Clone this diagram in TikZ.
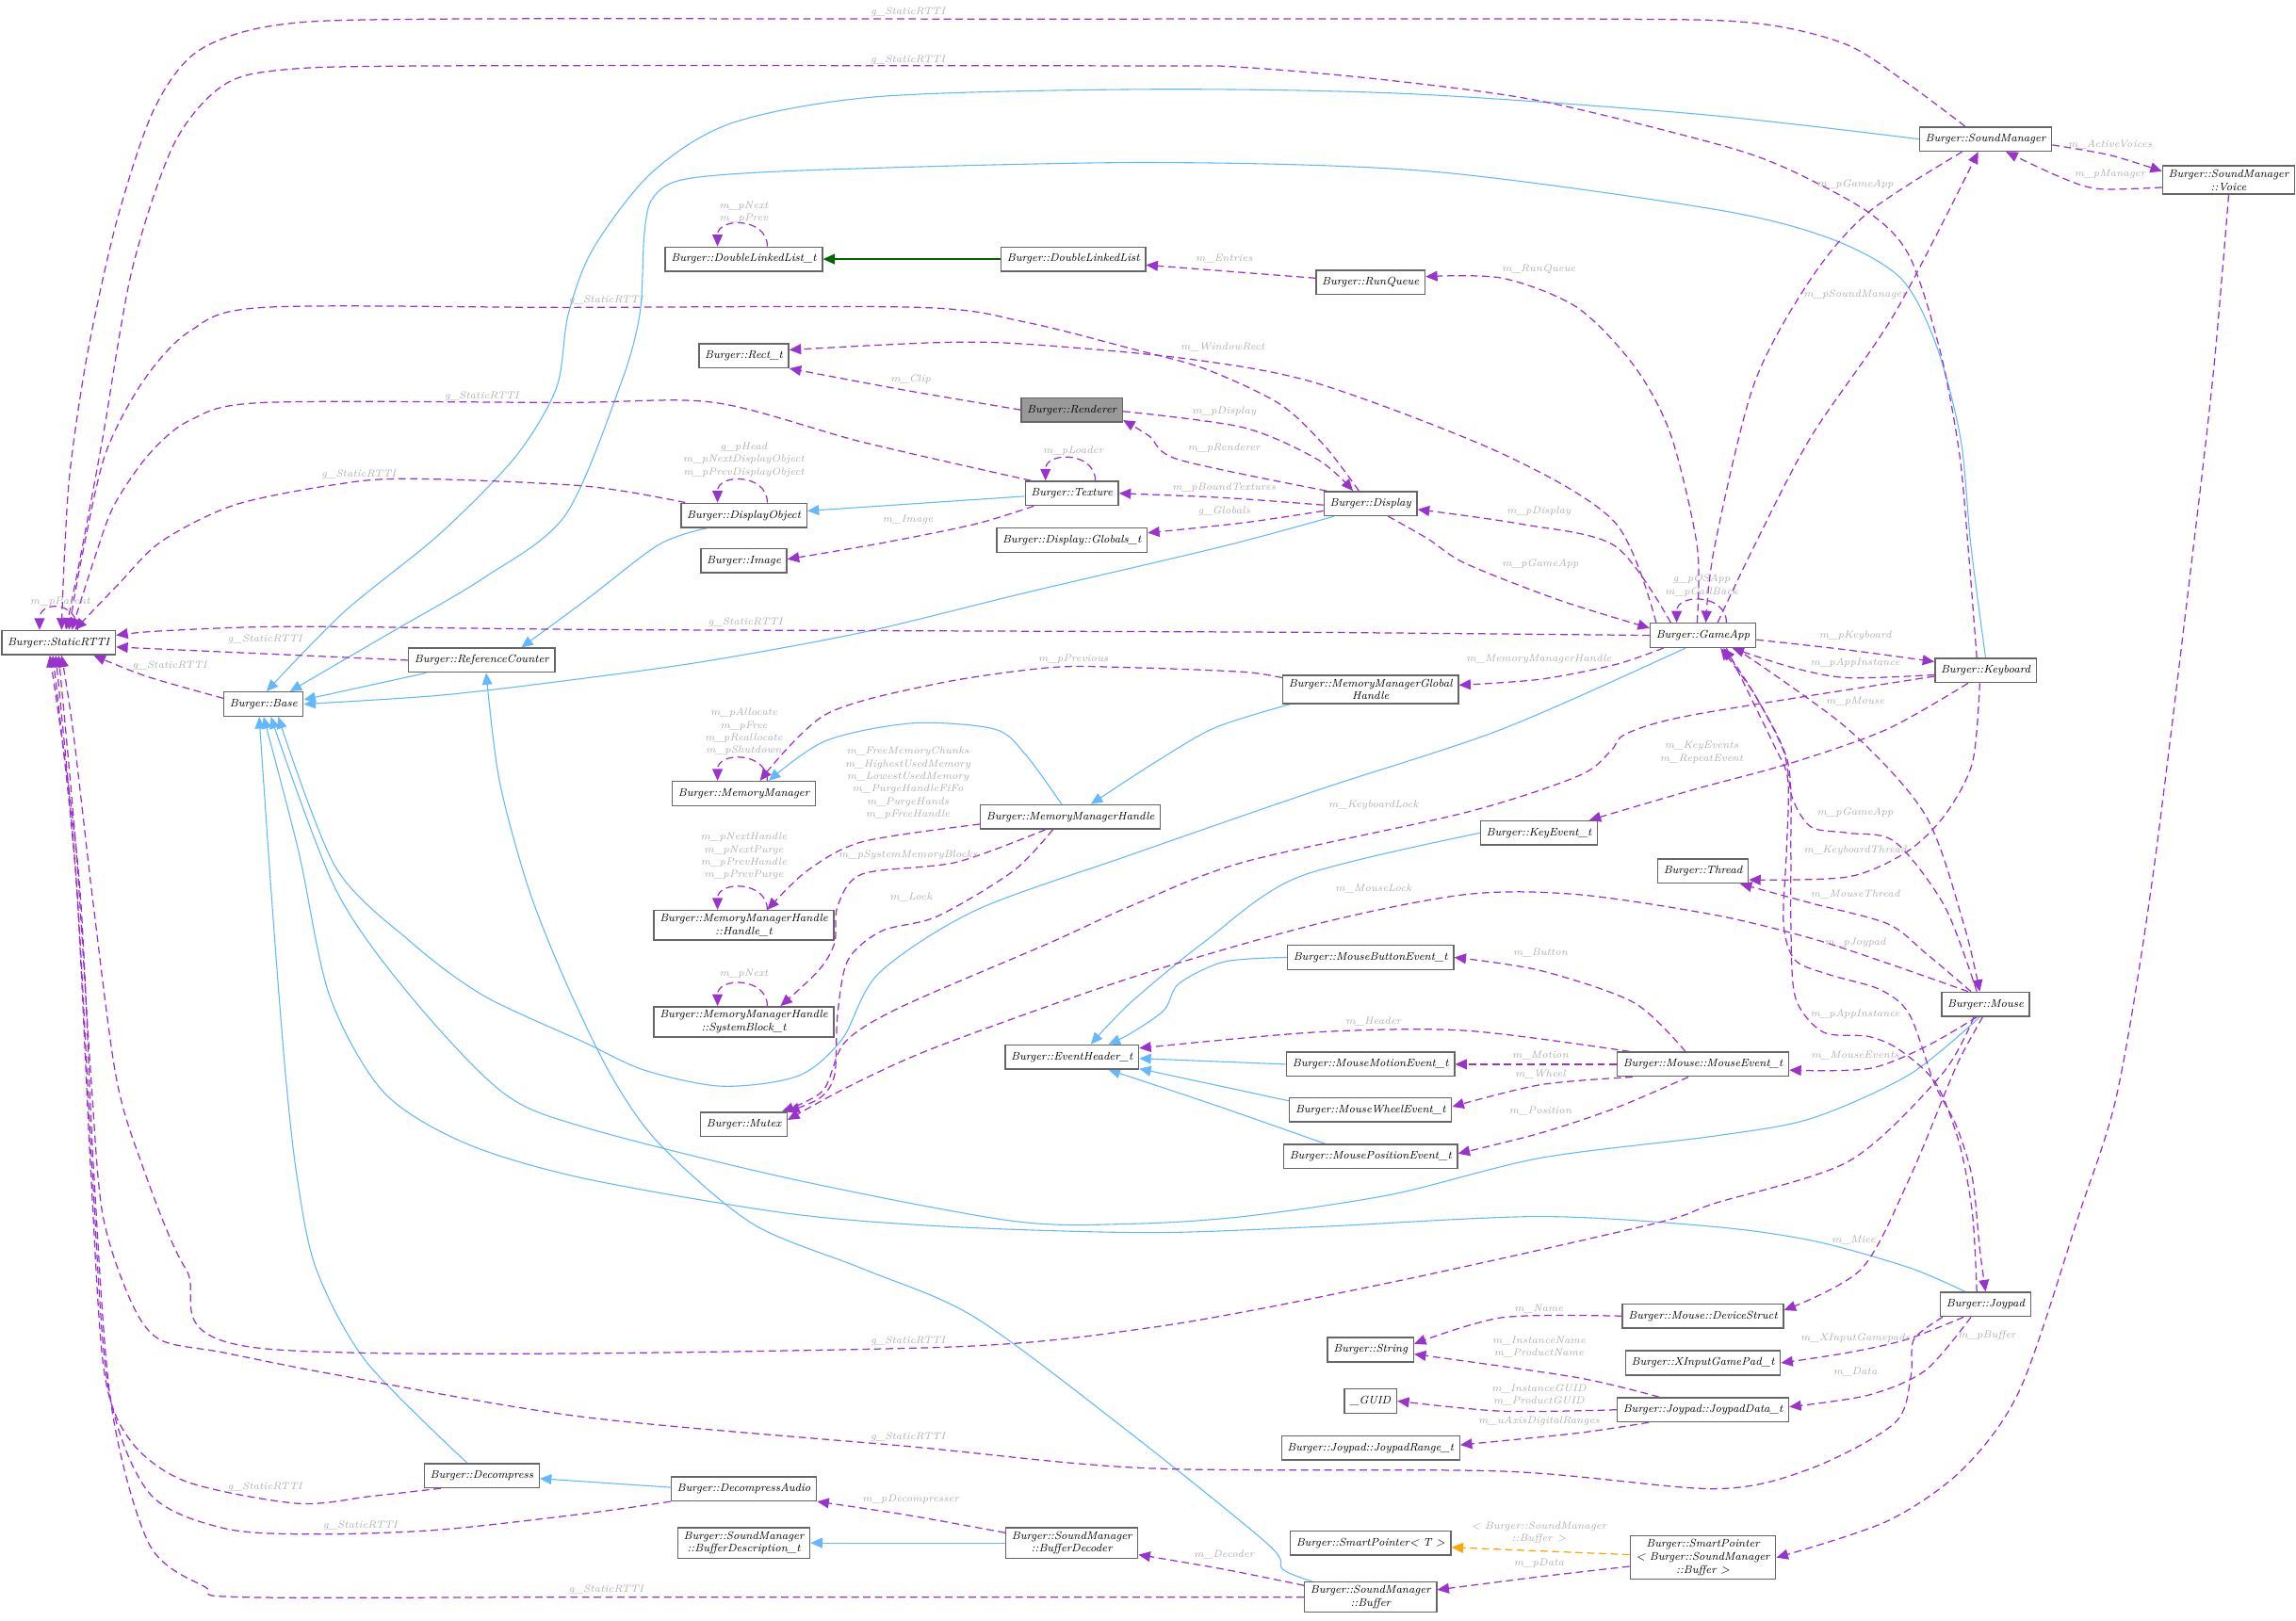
\documentclass[tikz,border=0pt]{standalone}
\usepackage{tikz}
\usetikzlibrary{arrows.meta,backgrounds}
\definecolor{cUse}{HTML}{9A32CD}
\definecolor{cInh}{HTML}{63B8FF}
\definecolor{cTmpl}{HTML}{FFA500}
\definecolor{cGreen}{HTML}{006400}
\definecolor{cBorder}{HTML}{666666}
\definecolor{cFocus}{HTML}{999999}
\definecolor{cLbl}{HTML}{ADADAD}
\tikzset{
  cls/.style   = {rectangle, draw=cBorder, fill=white, line width=0.9pt, align=center,
                  inner xsep=4pt, inner ysep=2.5pt, minimum height=16.5pt,
                  font=\fontsize{7.6}{8.8}\selectfont\itshape},
  focus/.style = {cls, fill=cFocus},
  use/.style   = {draw=cUse, line width=0.8pt, dash pattern=on 5pt off 3pt,
                  -{Triangle[length=8pt,width=7pt]}},
  inh/.style   = {draw=cInh, line width=0.7pt, -{Triangle[length=8pt,width=7pt]}},
  pub/.style   = {draw=cGreen, line width=0.9pt, -{Triangle[length=8pt,width=7pt]}},
  tmpl/.style  = {draw=cTmpl, line width=0.8pt, dash pattern=on 5pt off 3pt,
                  -{Triangle[length=8pt,width=7pt]}},
  lbl/.style   = {font=\fontsize{7}{8.6}\selectfont\itshape, text=cLbl, align=center,
                  inner sep=0pt},
}

\begin{document}
\begin{tikzpicture}[x=1pt,y=-1pt]
  \useasboundingbox (0,0) rectangle (1568,1107);

  \node[cls] (rtti)  at (40,439)   {Burger::StaticRTTI};
  \node[cls] (base)  at (180,481)  {Burger::Base};
  \node[cls] (refc)  at (329,451)  {Burger::ReferenceCounter};
  \node[cls] (dllt)  at (508,177)  {Burger::DoubleLinkedList\_t};
  \node[cls] (dll)   at (733,177)  {Burger::DoubleLinkedList};
  \node[cls] (runq)  at (936,193)  {Burger::RunQueue};
  \node[cls] (rect)  at (508,243)  {Burger::Rect\_t};
  \node[focus] (rend) at (732,280) {Burger::Renderer};
  \node[cls] (tex)   at (732,337)  {Burger::Texture};
  \node[cls] (dobj)  at (508,352)  {Burger::DisplayObject};
  \node[cls] (img)   at (508,383)  {Burger::Image};
  \node[cls] (glob)  at (732,369)  {Burger::Display::Globals\_t};
  \node[cls] (disp)  at (936,344)  {Burger::Display};
  \node[cls] (game)  at (1163,434) {Burger::GameApp};
  \node[cls] (sndm)  at (1356,95)  {Burger::SoundManager};
  \node[cls] (voice) at (1522,123) {Burger::SoundManager\\::Voice};
  \node[cls] (kbd)   at (1356,458) {Burger::Keyboard};
  \node[cls] (mmgh)  at (936,471)  {Burger::MemoryManagerGlobal\\Handle};
  \node[cls] (mm)    at (508,542)  {Burger::MemoryManager};
  \node[cls] (mmh)   at (731,558)  {Burger::MemoryManagerHandle};
  \node[cls] (hdl)   at (508,632)  {Burger::MemoryManagerHandle\\::Handle\_t};
  \node[cls] (sblk)  at (508,698)  {Burger::MemoryManagerHandle\\::SystemBlock\_t};
  \node[cls] (mutex) at (508,768)  {Burger::Mutex};
  \node[cls] (kev)   at (1051,569) {Burger::KeyEvent\_t};
  \node[cls] (thr)   at (1163,595) {Burger::Thread};
  \node[cls] (mbev)  at (936,654)  {Burger::MouseButtonEvent\_t};
  \node[cls] (evh)   at (732,722)  {Burger::EventHeader\_t};
  \node[cls] (mmev)  at (936,727)  {Burger::MouseMotionEvent\_t};
  \node[cls] (mev)   at (1163,727) {Burger::Mouse::MouseEvent\_t};
  \node[cls] (mouse) at (1356,686) {Burger::Mouse};
  \node[cls] (mwev)  at (936,758)  {Burger::MouseWheelEvent\_t};
  \node[cls] (mpev)  at (936,790)  {Burger::MousePositionEvent\_t};
  \node[cls] (dev)   at (1163,899) {Burger::Mouse::DeviceStruct};
  \node[cls] (str)   at (936,922)  {Burger::String};
  \node[cls] (xin)   at (1163,931) {Burger::XInputGamePad\_t};
  \node[cls] (guid)  at (936,957)  {\_GUID};
  \node[cls] (jdat)  at (1163,963) {Burger::Joypad::JoypadData\_t};
  \node[cls] (jrng)  at (936,989)  {Burger::Joypad::JoypadRange\_t};
  \node[cls] (joy)   at (1356,891) {Burger::Joypad};
  \node[cls] (dec)   at (329,1008) {Burger::Decompress};
  \node[cls] (deca)  at (508,1017) {Burger::DecompressAudio};
  \node[cls] (bdesc) at (508,1054) {Burger::SoundManager\\::BufferDescription\_t};
  \node[cls] (bdec)  at (732,1054) {Burger::SoundManager\\::BufferDecoder};
  \node[cls] (spt)   at (936,1054) {Burger::SmartPointer\textless{} T \textgreater};
  \node[cls] (spb)   at (1163,1064) {Burger::SmartPointer\\\textless{} Burger::SoundManager\\::Buffer \textgreater};
  \node[cls] (buf)   at (936,1091) {Burger::SoundManager\\::Buffer};

  \begin{scope}[on background layer]
  % inheritance
  \draw[inh] plot[smooth] coordinates {(sndm.west) (1160,78) (960,64) (785,61) (600,66) (500,84) (445,118) (405,170) (388,215) (380,265) (352,312) (300,365) (235,418) ([xshift=2pt]base.north)};
  \draw[inh] plot[smooth] coordinates {(kbd.north) (1346,373) (1339,300) (1322,235) (1298,190) (1250,163) (1171,143) (976,117) (785,111) (560,116) (470,122) (446,135) (440,160) (437,214) (424,262) (386,352) (330,395) (267,432) ([xshift=18pt]base.north)};
  \draw[inh] ([xshift=-38pt]refc.south) -- ([yshift=3pt]base.east);
  \draw[inh] plot[smooth] coordinates {([xshift=-12pt]game.south) (1026,498) (899,540) (772,584) (666,622) (600,665) (575,710) (545,735) (493,742) (440,731) (399,712) (330,680) (280,643) (229,592) ([xshift=10pt]base.south)};
  \draw[inh] plot[smooth] coordinates {([xshift=-10pt]dec.north) (250,930) (216,867) (203,805) (195,734) (186,620) ([xshift=-3pt]base.south)};
  \draw[inh] plot[smooth] coordinates {([xshift=-14pt]joy.north) (1304,866) (1240,848) (1171,838) (1052,831) (900,838) (785,842) (650,838) (539,829) (399,805) (318,781) (262,746) (225,680) (204,582) (base.south)};
  \draw[inh] plot[smooth] coordinates {([xshift=-4pt]mouse.south) (1304,734) (1237,764) (1171,776) (1052,791) (950,816) (849,831) (772,836) (691,834) (539,805) (399,770) (343,746) (280,680) (229,607) ([xshift=5pt]base.south)};
  \draw[inh] plot[smooth] coordinates {([xshift=-40pt]buf.north) (876,1072) (866,1055) (772,979) (666,900) (590,867) (514,836) (450,781) (417,734) (386,670) (361,607) (341,533) ([xshift=3pt]refc.south)};
  \draw[inh] plot[smooth] coordinates {([xshift=-55pt]mmgh.south) (830,497) (790,520) ([xshift=14pt]mmh.north)};
  \draw[inh] plot[smooth] coordinates {([xshift=-6pt]mmh.north) (700,515) (679,498) (623,494) (564,506) ([xshift=17pt]mm.north)};
  \draw[inh] plot[smooth] coordinates {([xshift=-25pt]dobj.south) (450,372) (400,410) ([xshift=27pt]refc.north)};
  \draw[inh] ([yshift=-2pt]tex.west) -- ([yshift=3pt]dobj.east);
  \draw[inh] plot[smooth] coordinates {([xshift=-25pt]disp.south) (836,373) (700,405) (589,432) (480,452) (386,465) (300,475) (base.east)};
  \draw[inh] plot[smooth] coordinates {(kev.west) (887,599) (823,643) (772,685) ([xshift=13pt]evh.north)};
  \draw[inh] plot[smooth] coordinates {(mbev.west) (836,657) (805,672) (795,690) (772,706) ([xshift=25pt]evh.north)};
  \draw[inh] (mmev.west) -- ([yshift=-1pt]evh.east);
  \draw[inh] ([yshift=6pt]mwev.west) -- ([yshift=-8pt]evh.east);
  \draw[inh] plot[smooth] coordinates {([xshift=-31pt]mpev.north) (830,755) ([xshift=25pt]evh.south)};
  \draw[inh] ([yshift=1pt]deca.west) -- ([yshift=-2pt]dec.east);
  \draw[inh] (bdec.west) -- (bdesc.east);
  \draw[pub] (dll.west) -- (dllt.east);
  \draw[tmpl] ([yshift=2pt]spb.west) -- ([yshift=-3pt]spt.east);

  % g_StaticRTTI
  \draw[use] plot[smooth] coordinates {([xshift=-14pt]sndm.north) (1300,55) (1260,30) (1200,16) (1100,13) (700,13) (300,13) (190,17) (135,35) (105,75) (80,150) (60,240) (48,320) (44,380) ([xshift=2pt]rtti.north)};
  \draw[use] plot[smooth] coordinates {([xshift=-6pt]kbd.north) (1344,373) (1338,309) (1325,240) (1304,175) (1276,145) (1220,115) (1171,98) (1052,69) (950,55) (849,46) (772,45) (300,45) (190,48) (150,60) (118,100) (90,185) (70,300) (55,380) ([xshift=5pt]rtti.north)};
  \draw[use] plot[smooth] coordinates {([xshift=-8pt]disp.north) (905,305) (874,276) (823,252) (772,238) (700,220) (628,210) (386,210) (180,210) (130,226) (98,260) (72,310) (56,380) ([xshift=7pt]rtti.north)};
  \draw[use] plot[smooth] coordinates {([xshift=-28pt]tex.north) (589,302) (488,275) (386,275) (180,275) (130,287) (102,310) (78,345) (65,380) ([xshift=9pt]rtti.north)};
  \draw[use] plot[smooth] coordinates {([xshift=-40pt]dobj.north) (399,332) (280,327) (229,331) (160,345) (110,370) (80,400) ([xshift=11pt]rtti.north)};
  \draw[use] plot[smooth] coordinates {(game.west) (900,432) (650,431) (399,430) (200,428) (110,431) ([yshift=5pt]rtti.east)};
  \draw[use] (refc.west) -- ([yshift=-3pt]rtti.east);
  \draw[use] plot[smooth] coordinates {([yshift=4pt]base.west) (100,462) ([xshift=24pt]rtti.south)};
  \draw[use] plot[smooth] coordinates {([xshift=-8pt]mouse.south) (1326,734) (1263,793) (1171,822) (1129,836) (950,876) (785,907) (620,921) (178,921) (127,867) (95,790) (79,734) (64,620) (50,500) ([xshift=2pt]rtti.south)};
  \draw[use] plot[smooth] coordinates {([xshift=2pt]joy.south west) (1307,915) (1305,940) (1294,972) (1237,1003) (1171,1017) (1026,1005) (785,1003) (620,988) (399,968) (229,939) (153,924) (109,915) (89,888) (70,829) (62,734) (52,580) (rtti.south)};
  \draw[use] plot[smooth] coordinates {([xshift=-28pt]dec.south) (254,1022) (203,1027) (127,1012) (89,984) (71,936) (62,800) (52,600) ([xshift=-2pt]rtti.south)};
  \draw[use] plot[smooth] coordinates {(deca.south west) (399,1034) (300,1045) (216,1048) (153,1044) (102,1020) (74,948) (63,800) (52,600) ([xshift=-4pt]rtti.south)};
  \draw[use] plot[smooth] coordinates {(buf.west) (700,1091) (400,1091) (165,1091) (140,1084) (102,1055) (76,960) (64,800) (54,600) ([xshift=-6pt]rtti.south)};

  % self references
  \draw[use] ([xshift=13pt]rtti.north) .. controls +(0,-20) and +(0,-20) .. ([xshift=-13pt]rtti.north);
  \foreach \n in {dllt,dobj,tex,mm,hdl,sblk,game}
    \draw[use] ([xshift=16pt]\n.north) .. controls +(0,-20) and +(0,-20) .. ([xshift=-18pt]\n.north);

  % members
  \draw[use] ([yshift=3pt]runq.west) -- ([yshift=-4pt]dll.east);
  \draw[use] plot[smooth] coordinates {([xshift=-4pt]game.north) (1159,373) (1141,297) (1116,250) (1077,210) (1026,190) ([yshift=4pt]runq.east)};
  \draw[use] plot[smooth] coordinates {([xshift=-32pt]game.north) (1103,357) (1026,310) (900,262) (810,245) (700,235) (640,234) ([yshift=4pt]rect.east)};
  \draw[use] plot[smooth] coordinates {(rend.west) (615,266) (rect.south east)};
  \draw[use] plot[smooth] coordinates {([xshift=-30pt]disp.north) (805,314) (785,298) ([yshift=-7pt]rend.east)};
  \draw[use] plot[smooth] coordinates {([yshift=-1pt]rend.east) (849,292) (900,314) ([xshift=-12pt]disp.north)};
  \draw[use] plot[smooth] coordinates {([yshift=-1pt]disp.west) (836,340) (tex.east)};
  \draw[use] plot[smooth] coordinates {([yshift=-5pt]disp.west) (850,357) ([yshift=5pt]glob.east)};
  \draw[use] plot[smooth] coordinates {([xshift=-26pt]tex.south) (666,358) (602,371) ([yshift=1pt]img.east)};
  \draw[use] plot[smooth] coordinates {([xshift=12pt]disp.south) (975,368) (1001,385) (1065,410) ([yshift=5pt]game.west)};
  \draw[use] plot[smooth] coordinates {([xshift=-22pt]game.north) (1103,373) (1039,358) ([yshift=-4pt]disp.east)};
  \draw[use] plot[smooth] coordinates {([xshift=10pt]game.north) (1198,373) (1237,298) (1294,214) ([xshift=-5pt]sndm.south)};
  \draw[use] plot[smooth] coordinates {([xshift=-16pt]sndm.south) (1276,145) (1237,190) (1198,262) (1171,373) ([xshift=2pt]game.north)};
  \draw[use] plot[smooth] coordinates {([yshift=-4pt]sndm.east) (1441,106) ([yshift=6pt]voice.west)};
  \draw[use] plot[smooth] coordinates {([yshift=-5pt]voice.west) (1433,129) (1407,121) ([xshift=14pt]sndm.south)};
  \draw[use] plot[smooth] coordinates {(voice.south) (1512,250) (1498,373) (1470,600) (1446,746) (1420,829) (1380,948) (1341,1003) (1289,1039) (spb.east)};
  \draw[use] plot[smooth] coordinates {([yshift=-6pt]spb.west) (1052,1077) ([yshift=5pt]buf.east)};
  \draw[use] plot[smooth] coordinates {([yshift=8pt]buf.west) (836,1072) ([yshift=-8pt]bdec.east)};
  \draw[use] plot[smooth] coordinates {([yshift=7pt]bdec.west) (620,1035) (deca.south east)};
  \draw[use] plot[smooth] coordinates {([yshift=8pt]mmgh.west) (849,459) (772,456) (717,456) (640,467) (564,488) ([xshift=11pt]mm.north)};
  \draw[use] plot[smooth] coordinates {([yshift=-5pt]mmh.west) (589,575) (551,595) ([xshift=16pt]hdl.north)};
  \draw[use] plot[smooth] coordinates {([xshift=-17pt]mmh.south) (653,589) (589,597) (572,619) (570,644) (559,663) ([xshift=25pt]sblk.north)};
  \draw[use] plot[smooth] coordinates {([xshift=-12pt]mmh.south) (692,595) (640,626) (602,636) (579,656) (572,693) (570,734) (560,750) (mutex.north east)};
  \draw[use] plot[smooth] coordinates {([yshift=-4pt]kbd.west) (1158,488) (1111,501) (1100,513) (1078,530) (1001,555) (849,589) (772,619) (717,644) (615,688) (577,712) (562,745) ([xshift=-4pt]mutex.north east)};
  \draw[use] plot[smooth] coordinates {([xshift=-12pt]mouse.north) (1289,658) (1237,641) (1171,625) (1077,611) (1001,611) (900,631) (772,668) (640,715) (580,742) ([yshift=3pt]mutex.east)};
  \draw[use] plot[smooth] coordinates {([xshift=-27pt]game.south) (1103,454) (1052,464) ([yshift=3pt]mmgh.east)};
  \draw[use] plot[smooth] coordinates {([yshift=-3pt]game.east) (1262,444) ([yshift=6pt]kbd.west)};
  \draw[use] plot[smooth] coordinates {([yshift=-3pt]kbd.west) (1262,463) (1224,456) ([xshift=20pt]game.south)};
  \draw[use] plot[smooth] coordinates {([xshift=22pt]game.south) (1262,498) (1315,557) (1341,631) ([xshift=-4pt]mouse.north)};
  \draw[use] plot[smooth] coordinates {([xshift=-12pt]kbd.south) (1289,498) (1224,521) (1158,539) ([xshift=-6pt]kev.north east)};
  \draw[use] plot[smooth] coordinates {([xshift=-4pt]kbd.south) (1347,521) (1328,557) (1302,582) (1262,599) ([yshift=-6pt]thr.east)};
  \draw[use] plot[smooth] coordinates {([xshift=-10pt]mouse.north) (1315,651) (1289,631) (1237,617) ([xshift=-6pt]thr.south east)};
  \draw[use] plot[smooth] coordinates {([xshift=-6pt]mouse.north) (1328,619) (1294,575) (1262,569) (1237,565) (1224,545) (1218,513) (1198,474) ([xshift=12pt]game.south)};
  \draw[use] plot[smooth] coordinates {([xshift=16pt]game.south) (1211,508) (1221,533) (1220,582) (1218,631) (1226,656) (1250,666) (1284,676) (1304,693) (1321,740) (1336,769) (1347,805) (1352,853) (joy.north)};
  \draw[use] plot[smooth] coordinates {([xshift=-6pt]joy.north) (1347,829) (1338,781) (1322,740) (1297,717) (1276,708) (1245,705) (1226,681) (1223,630) (1223,582) (1221,521) (1198,474) ([xshift=14pt]game.south)};
  \draw[use] plot[smooth] coordinates {([xshift=-6pt]mouse.south) (1315,715) (1276,730) ([yshift=-4pt]mev.east)};
  \draw[use] plot[smooth] coordinates {([xshift=-12pt]mev.north) (1116,685) (1052,663) (mbev.east)};
  \draw[use] plot[smooth] coordinates {([xshift=-50pt]mev.north) (1001,704) (900,705) ([yshift=6pt]evh.east)};
  \draw[use] (mev.west) -- (mmev.east);
  \draw[use] plot[smooth] coordinates {([xshift=-48pt]mev.south) (1052,741) ([yshift=2pt]mwev.east)};
  \draw[use] plot[smooth] coordinates {([xshift=-10pt]mev.south) (1103,757) (1052,774) ([yshift=2pt]mpev.east)};
  \draw[use] plot[smooth] coordinates {([xshift=-2pt]mouse.south) (1340,720) (1331,740) (1304,805) (1271,867) ([yshift=4pt]dev.east)};
  \draw[use] plot[smooth] coordinates {(dev.west) (1026,900) ([yshift=4pt]str.east)};
  \draw[use] plot[smooth] coordinates {([xshift=-30pt]jdat.north) (1077,941) ([yshift=-3pt]str.east)};
  \draw[use] plot[smooth] coordinates {(jdat.west) (1026,964) (guid.east)};
  \draw[use] plot[smooth] coordinates {([xshift=-37pt]jdat.south) (1077,979) ([yshift=2pt]jrng.east)};
  \draw[use] plot[smooth] coordinates {([xshift=-15pt]joy.south) (1302,915) (1262,924) (xin.east)};
  \draw[use] plot[smooth] coordinates {([xshift=-10pt]joy.south) (1315,936) (1276,953) ([yshift=2pt]jdat.east)};
  \end{scope}

  \node[lbl] (lA) at (620,8)    {g\_StaticRTTI};
  \node[lbl] (lB) at (620,41)   {g\_StaticRTTI};
  \node[lbl] (lC) at (414,205)  {g\_StaticRTTI};
  \node[lbl] (lD) at (329,271)  {g\_StaticRTTI};
  \node[lbl] (lE) at (245,324)  {g\_StaticRTTI};
  \node[lbl] (lF) at (509,425)  {g\_StaticRTTI};
  \node[lbl] (lG) at (181,437)  {g\_StaticRTTI};
  \node[lbl] (lH) at (116,455)  {g\_StaticRTTI};
  \node[lbl] (lI) at (620,916)  {g\_StaticRTTI};
  \node[lbl] (lJ) at (620,982)  {g\_StaticRTTI};
  \node[lbl] (lK) at (181,1016) {g\_StaticRTTI};
  \node[lbl] (lL) at (246,1042) {g\_StaticRTTI};
  \node[lbl] (lM) at (414,1086) {g\_StaticRTTI};
  \node[lbl] (lParent)  at (41,411)   {m\_pParent};
  \node[lbl] (lDll)     at (508,145)  {m\_pNext\\m\_pPrev};
  \node[lbl] (lEntries) at (836,177)  {m\_Entries};
  \node[lbl] (lRunQ)    at (1051,184) {m\_RunQueue};
  \node[lbl] (lWin)     at (835,237)  {m\_WindowRect};
  \node[lbl] (lClip)    at (622,259)  {m\_Clip};
  \node[lbl] (lDisp1)   at (836,281)  {m\_pDisplay};
  \node[lbl] (lRend)    at (836,306)  {m\_pRenderer};
  \node[lbl] (lLoader)  at (733,308)  {m\_pLoader};
  \node[lbl] (lDobj)    at (508,314)  {g\_pHead\\m\_pNextDisplayObject\\m\_pPrevDisplayObject};
  \node[lbl] (lBound)   at (836,333)  {m\_pBoundTextures};
  \node[lbl] (lGlob)    at (836,349)  {g\_Globals};
  \node[lbl] (lImage)   at (620,355)  {m\_Image};
  \node[lbl] (lDisp2)   at (1051,349) {m\_pDisplay};
  \node[lbl] (lGame1)   at (1052,385) {m\_pGameApp};
  \node[lbl] (lOS)      at (1162,400) {g\_pOSApp\\m\_pCallBack};
  \node[lbl] (lSnd)     at (1267,201) {m\_pSoundManager};
  \node[lbl] (lGame2)   at (1267,126) {m\_pGameApp};
  \node[lbl] (lVoices)  at (1441,99)  {m\_ActiveVoices};
  \node[lbl] (lMgr)     at (1441,119) {m\_pManager};
  \node[lbl] (lPrev)    at (733,450)  {m\_pPrevious};
  \node[lbl] (lMMH)     at (1051,450) {m\_MemoryManagerHandle};
  \node[lbl] (lKbd)     at (1267,434) {m\_pKeyboard};
  \node[lbl] (lApp1)    at (1267,453) {m\_pAppInstance};
  \node[lbl] (lMouse)   at (1267,479) {m\_pMouse};
  \node[lbl] (lMM)      at (508,500)  {m\_pAllocate\\m\_pFree\\m\_pReallocate\\m\_pShutdown};
  \node[lbl] (lMMH2)    at (620,535)  {m\_FreeMemoryChunks\\m\_HighestUsedMemory\\m\_LowestUsedMemory\\m\_PurgeHandleFiFo\\m\_PurgeHands\\m\_pFreeHandle};
  \node[lbl] (lKeyEv)   at (1162,514) {m\_KeyEvents\\m\_RepeatEvent};
  \node[lbl] (lKLock)   at (938,550)  {m\_KeyboardLock};
  \node[lbl] (lGame3)   at (1267,555) {m\_pGameApp};
  \node[lbl] (lKThr)    at (1267,581) {m\_KeyboardThread};
  \node[lbl] (lSys)     at (620,584)  {m\_pSystemMemoryBlocks};
  \node[lbl] (lHdl)     at (508,585)  {m\_pNextHandle\\m\_pNextPurge\\m\_pPrevHandle\\m\_pPrevPurge};
  \node[lbl] (lMLock)   at (938,607)  {m\_MouseLock};
  \node[lbl] (lMThr)    at (1267,611) {m\_MouseThread};
  \node[lbl] (lLock)    at (622,613)  {m\_Lock};
  \node[lbl] (lJoy)     at (1267,644) {m\_pJoypad};
  \node[lbl] (lButton)  at (1052,651) {m\_Button};
  \node[lbl] (lSb)      at (508,665)  {m\_pNext};
  \node[lbl] (lApp2)    at (1267,693) {m\_pAppInstance};
  \node[lbl] (lHeader)  at (938,698)  {m\_Header};
  \node[lbl] (lMotion)  at (1052,721) {m\_Motion};
  \node[lbl] (lMEv)     at (1267,721) {m\_MouseEvents};
  \node[lbl] (lWheel)   at (1052,734) {m\_Wheel};
  \node[lbl] (lPos)     at (1052,759) {m\_Position};
  \node[lbl] (lMice)    at (1266,847) {m\_Mice};
  \node[lbl] (lName)    at (1051,894) {m\_Name};
  \node[lbl] (lBuf)     at (1357,912) {m\_pBuffer};
  \node[lbl] (lXin)     at (1267,914) {m\_XInputGamepads};
  \node[lbl] (lStrs)    at (1051,920) {m\_InstanceName\\m\_ProductName};
  \node[lbl] (lData)    at (1267,937) {m\_Data};
  \node[lbl] (lGuid)    at (1051,953) {m\_InstanceGUID\\m\_ProductGUID};
  \node[lbl] (lRange)   at (1051,971) {m\_uAxisDigitalRanges};
  \node[lbl] (lDecomp)  at (622,1024) {m\_pDecompresser};
  \node[lbl] (lTmpl)    at (1051,1047) {\textless{} Burger::SoundManager\\::Buffer \textgreater};
  \node[lbl] (lDecoder) at (836,1062) {m\_Decoder};
  \node[lbl] (lPData)   at (1051,1068) {m\_pData};
\end{tikzpicture}
\end{document}
